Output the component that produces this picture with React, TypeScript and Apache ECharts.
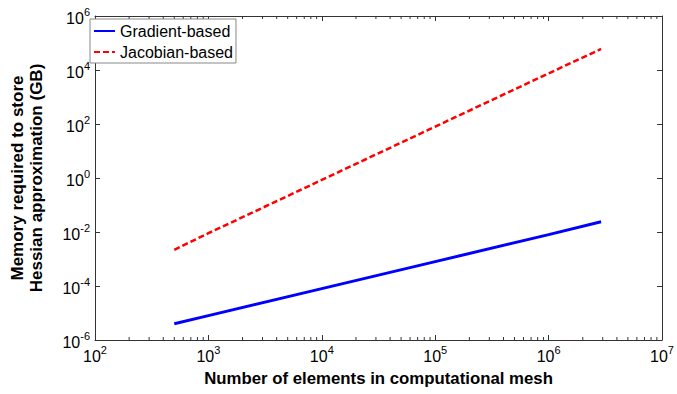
import React, { useEffect, useRef } from "react";
import * as echarts from "echarts";

const elements = [500, 1000, 10000, 100000, 1000000, 2900000];
const gradientGB = [4e-6, 8e-6, 8e-5, 8e-4, 8e-3, 0.024];
const jacobianGB = [2.2e-3, 9e-3, 0.85, 80, 7.5e3, 6e4];
const minorMultipliers = [2, 3, 4, 5, 6, 7, 8, 9];
const minorDecades = [100, 1000, 10000, 100000, 1000000];
const xTitle = "Number of elements in computational mesh";
const yTitle = "Memory required to store\nHessian approximation (GB)";

const FONT = "Liberation Sans, Arial, Helvetica, sans-serif";
const AXIS_COLOR = "#333";

const supFormatter = (v: number) => {
  const e = Math.round(Math.log10(v));
  return `{b|10}{s|${e}}`;
};

const richLabel = {
  b: { fontSize: 16, lineHeight: 20, verticalAlign: "bottom", color: "#000", fontFamily: FONT },
  s: { fontSize: 11, lineHeight: 11, verticalAlign: "top", color: "#000", fontFamily: FONT },
};

export default function App() {
  const ref = useRef<HTMLDivElement>(null);
  useEffect(() => {
    if (!ref.current) return;
    const chart = echarts.init(ref.current, undefined, { renderer: "svg" });
    const minorTicks: number[][] = [];
    minorDecades.forEach((d) => minorMultipliers.forEach((m) => minorTicks.push([m * d, 1])));

    const axisLine = { show: true, lineStyle: { color: AXIS_COLOR, width: 1 } };
    chart.setOption({
      animation: false,
      backgroundColor: "#fff",
      textStyle: { fontFamily: FONT },
      grid: { left: 86, right: 9, top: 16, bottom: 54, containLabel: false },
      legend: {
        orient: "vertical",
        left: 90,
        top: 19,
        padding: [4, 3, 3, 3],
        itemWidth: 21,
        itemHeight: 14,
        itemGap: 5,
        borderColor: "#888",
        borderWidth: 1,
        backgroundColor: "#fff",
        itemStyle: { opacity: 0, borderWidth: 0 },
        textStyle: { fontSize: 16, color: "#000", fontFamily: FONT },
        data: ["Gradient-based", "Jacobian-based"],
      },
      xAxis: [
        {
          type: "log",
          min: 100,
          max: 1e7,
          interval: 1,
          position: "bottom",
          axisLine,
          axisTick: { show: true, inside: true, length: 5, lineStyle: { color: AXIS_COLOR } },
          axisLabel: { formatter: supFormatter, rich: richLabel, margin: 4 },
          splitLine: { show: false },
          name: xTitle,
          nameLocation: "middle",
          nameGap: 30,
          nameTextStyle: { fontSize: 16.8, fontWeight: "bold", color: "#000", fontFamily: FONT },
        },
        {
          type: "log",
          min: 100,
          max: 1e7,
          interval: 1,
          position: "top",
          axisLine,
          axisTick: { show: true, inside: true, length: 5, lineStyle: { color: AXIS_COLOR } },
          axisLabel: { show: false },
          splitLine: { show: false },
        },
      ],
      yAxis: [
        {
          type: "log",
          min: 1e-6,
          max: 1e6,
          interval: 2,
          position: "left",
          axisLine,
          axisTick: { show: true, inside: true, length: 5, lineStyle: { color: AXIS_COLOR } },
          axisLabel: { formatter: supFormatter, rich: richLabel, margin: 5 },
          splitLine: { show: false },
          name: yTitle,
          nameLocation: "middle",
          nameRotate: 90,
          nameGap: 49,
          nameTextStyle: { fontSize: 17, fontWeight: "bold", color: "#000", fontFamily: FONT, lineHeight: 19 },
        },
        {
          type: "log",
          min: 1e-6,
          max: 1e6,
          interval: 2,
          position: "right",
          axisLine,
          axisTick: { show: true, inside: true, length: 5, lineStyle: { color: AXIS_COLOR } },
          axisLabel: { show: false },
          splitLine: { show: false },
        },
      ],
      series: [
        {
          name: "Gradient-based",
          type: "line",
          data: elements.map((n, i) => [n, gradientGB[i]]),
          showSymbol: false,
          symbol: "none",
          lineStyle: { color: "#0000ff", width: 3 },
          itemStyle: { color: "#0000ff" },
        },
        {
          name: "Jacobian-based",
          type: "line",
          data: elements.map((n, i) => [n, jacobianGB[i]]),
          showSymbol: false,
          symbol: "none",
          lineStyle: { color: "#ff0000", width: 2.5, type: [6, 3] },
          itemStyle: { color: "#ff0000" },
        },
        {
          name: "minor",
          type: "custom",
          silent: true,
          data: minorTicks,
          renderItem: (params: any, api: any) => {
            const x = api.coord([api.value(0), 1])[0];
            const cs = params.coordSys;
            const style = { stroke: AXIS_COLOR, lineWidth: 1 };
            return {
              type: "group",
              children: [
                { type: "line", shape: { x1: x, y1: cs.y + cs.height, x2: x, y2: cs.y + cs.height - 3 }, style },
                { type: "line", shape: { x1: x, y1: cs.y, x2: x, y2: cs.y + 3 }, style },
              ],
            };
          },
        },
      ],
    });
    return () => chart.dispose();
  }, []);
  return <div ref={ref} style={{ position: "fixed", left: 0, top: 0, width: 677, height: 394 }} />;
}
